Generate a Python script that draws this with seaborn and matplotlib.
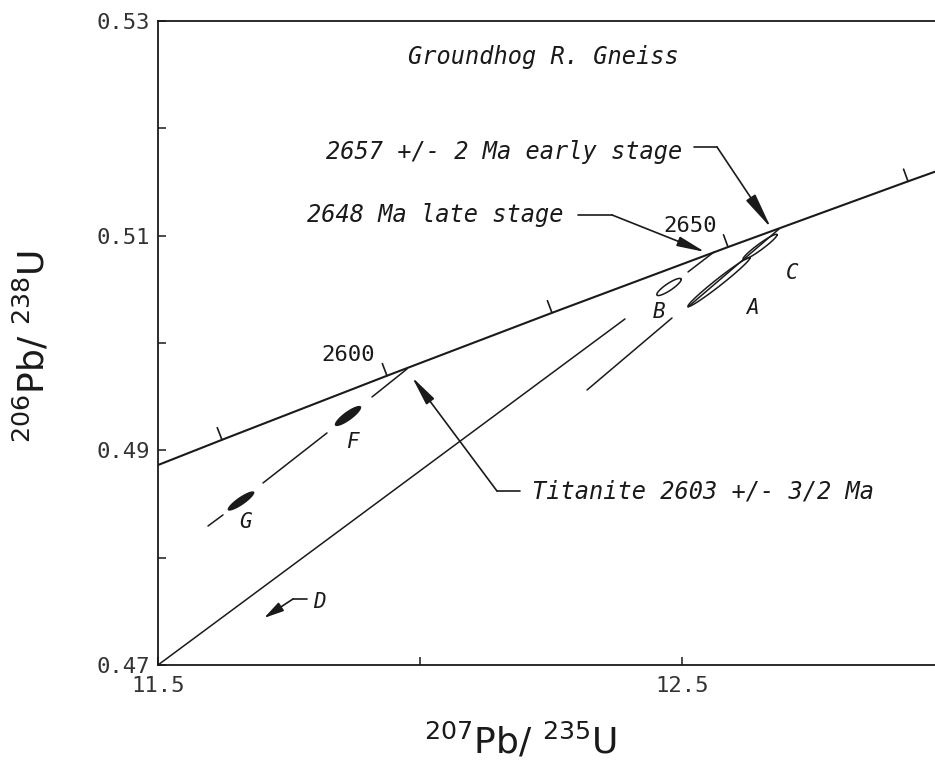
import numpy as np
import pandas as pd
import matplotlib
matplotlib.use("Agg")
import matplotlib.pyplot as plt
import seaborn as sns

# Concordia curve, points (ages only where it is ticked)
conc_x = [11.5, 11.6221, 11.9370, 12.2519, 12.5878, 12.9313, 12.9828]
conc_y = [0.48863, 0.49098, 0.49695, 0.50281, 0.50894, 0.51506, 0.51596]
conc_age = [np.nan, 2575, 2600, 2625, 2650, 2675, np.nan]
labelled_ages = [2600, 2650]

# Discordia lines, drawn as broken segments (gaps around the ellipses)
late_x = [[11.5, 12.3912], [12.5115, 12.5611]]
late_y = [[0.47, 0.50224], [0.50662, 0.50848]]
early_x = [[12.3187, 12.4809], [12.5115, 12.6851]]
early_y = [[0.49562, 0.50233], [0.50336, 0.51062]]
titan_x = [[11.5954, 11.6240], [11.7004, 11.8225], [11.9084, 11.9752]]
titan_y = [[0.48295, 0.48398], [0.48696, 0.49162], [0.49497, 0.49758]]

# Error ellipses: centre, sigma x, sigma y, correlation
ell_name = ["G", "F", "B", "A", "C"]
ell_x = [11.6584, 11.8626, 12.4752, 12.5706, 12.6489]
ell_y = [0.48528, 0.49320, 0.50522, 0.50568, 0.50895]
ell_sx = [0.0255, 0.0252, 0.0233, 0.0593, 0.0325]
ell_sy = [0.00090, 0.00094, 0.00080, 0.00229, 0.00118]
ell_rho = [0.868, 0.845, 0.875, 0.984, 0.956]
ell_filled = [True, True, False, False, False]

sns.set_style("ticks")
plt.rcParams["font.family"] = ["DejaVu Sans"]
mono = "DejaVu Sans Mono"
ink = "#1a1a1a"

fig = plt.figure(figsize=(9.35, 7.63), dpi=100)
ax = fig.add_axes([158 / 935, 98 / 763, 777 / 935, 644 / 763])
ax.set_xlim(11.5, 12.9828)
ax.set_ylim(0.47, 0.53)

# concordia
sns.lineplot(x=conc_x, y=conc_y, sort=False, color=ink, linewidth=1.5, ax=ax)

# discordias
rows = []
for name, xs, ys in [("late", late_x, late_y), ("early", early_x, early_y),
                     ("titan", titan_x, titan_y)]:
    for k, (sx, sy) in enumerate(zip(xs, ys)):
        for xv, yv in zip(sx, sy):
            rows.append({"x": xv, "y": yv, "seg": f"{name}{k}"})
df_disc = pd.DataFrame(rows)
sns.lineplot(data=df_disc, x="x", y="y", units="seg", estimator=None, sort=False,
             color=ink, linewidth=1.1, ax=ax, legend=False)

# age ticks on the concordia, perpendicular, pointing up-left
trans = ax.transData
pts = trans.transform(np.column_stack([conc_x, conc_y]))
for i, age in enumerate(conc_age):
    if np.isnan(age):
        continue
    d = pts[i + 1] - pts[i - 1]
    d = d / np.hypot(*d)
    n = np.array([-d[1], d[0]])
    end = trans.inverted().transform(pts[i] + n * 13)
    ax.plot([conc_x[i], end[0]], [conc_y[i], end[1]], color=ink, lw=1.2)
    if age in labelled_ages:
        lab = trans.inverted().transform(pts[i] + n * 16 + np.array([-6, -4]))
        ax.text(lab[0], lab[1], f"{int(age)}", family=mono, fontsize=16,
                ha="right", va="bottom", color=ink)

# ellipses
t = np.linspace(0, 2 * np.pi, 200)
label_off = {"G": (3, -15), "F": (3, -19), "B": (-7, -18), "A": (24, -19), "C": (23, -19)}
for nm, cx, cy, sx, sy, r, filled in zip(ell_name, ell_x, ell_y, ell_sx, ell_sy,
                                         ell_rho, ell_filled):
    ex = cx + sx * np.cos(t)
    ey = cy + sy * (r * np.cos(t) + np.sqrt(1 - r ** 2) * np.sin(t))
    if filled:
        ax.fill(ex, ey, color=ink, lw=0)
    else:
        ax.plot(ex, ey, color=ink, lw=1.1)
    ax.annotate(nm, (cx, cy), xytext=label_off[nm], textcoords="offset points",
                family=mono, style="italic", fontsize=15, ha="center", va="center",
                color=ink)

# annotations
def leader(text, tx, ty, ha, stub, tip, hl=0.9, hw=0.15):
    ax.text(tx, ty, text, family=mono, style="italic", fontsize=17,
            ha=ha, va="center", color=ink)
    ax.plot(stub[0], stub[1], color=ink, lw=1.2)
    ax.annotate("", xy=tip, xytext=(stub[0][1], stub[1][1]),
                arrowprops=dict(arrowstyle=f"-|>,head_length={hl},head_width={hw}",
                                mutation_scale=20, color=ink, lw=1.2,
                                shrinkA=0, shrinkB=0))

leader("2657 +/- 2 Ma early stage", 12.5, 0.51780, "right",
       ([12.5229, 12.5668], [0.51826, 0.51826]), (12.6698, 0.51072), hl=1.1, hw=0.17)
leader("2648 Ma late stage", 12.2729, 0.51193, "right",
       ([12.3015, 12.3664], [0.51193, 0.51193]), (12.5439, 0.50848), hl=0.85)
leader("Titanite 2603 +/- 3/2 Ma", 12.2137, 0.48621, "left",
       ([12.1908, 12.1469], [0.48621, 0.48621]), (11.9847, 0.49683), hl=0.9)
ax.text(11.7958, 0.47587, "D", family=mono, style="italic", fontsize=15,
        ha="left", va="center", color=ink)
ax.plot([11.7844, 11.7576], [0.47615, 0.47615], color=ink, lw=1.2)
ax.annotate("", xy=(11.7023, 0.47438), xytext=(11.7576, 0.47615),
            arrowprops=dict(arrowstyle="-|>,head_length=0.6,head_width=0.15",
                            mutation_scale=20, color=ink, lw=1.2,
                            shrinkA=0, shrinkB=0))

ax.text(12.2347, 0.52665, "Groundhog R. Gneiss", family=mono, style="italic",
        fontsize=17, ha="center", va="center", color=ink)

# axes styling
ax.set_xticks([11.5, 12.5])
ax.set_xticks([12.0], minor=True)
ax.set_xticklabels(["11.5", "12.5"])
ax.set_yticks([0.47, 0.49, 0.51, 0.53])
ax.set_yticks([0.48, 0.50, 0.52], minor=True)
ax.set_yticklabels(["0.47", "0.49", "0.51", "0.53"])
ax.tick_params(which="both", direction="in", length=6, width=1.1, color=ink,
               labelcolor="#333333")
ax.tick_params(axis="x", pad=8)
ax.tick_params(axis="y", pad=6)
for lab in ax.get_xticklabels() + ax.get_yticklabels():
    lab.set_family(mono)
    lab.set_fontsize(16)
ax.spines["right"].set_visible(False)
for s in ["left", "bottom", "top"]:
    ax.spines[s].set_color(ink)
    ax.spines[s].set_linewidth(1.3)
ax.set_xlabel("")
ax.set_ylabel("")

fig.text(520 / 935, 1 - 741 / 763, r"$^{207}$Pb/ $^{235}$U", fontsize=26,
         ha="center", va="center", color=ink)
fig.text(32 / 935, 1 - 347 / 763, r"$^{206}$Pb/ $^{238}$U", fontsize=26,
         rotation=90, ha="center", va="center", color=ink)

fig.savefig("out.png", dpi=100)
